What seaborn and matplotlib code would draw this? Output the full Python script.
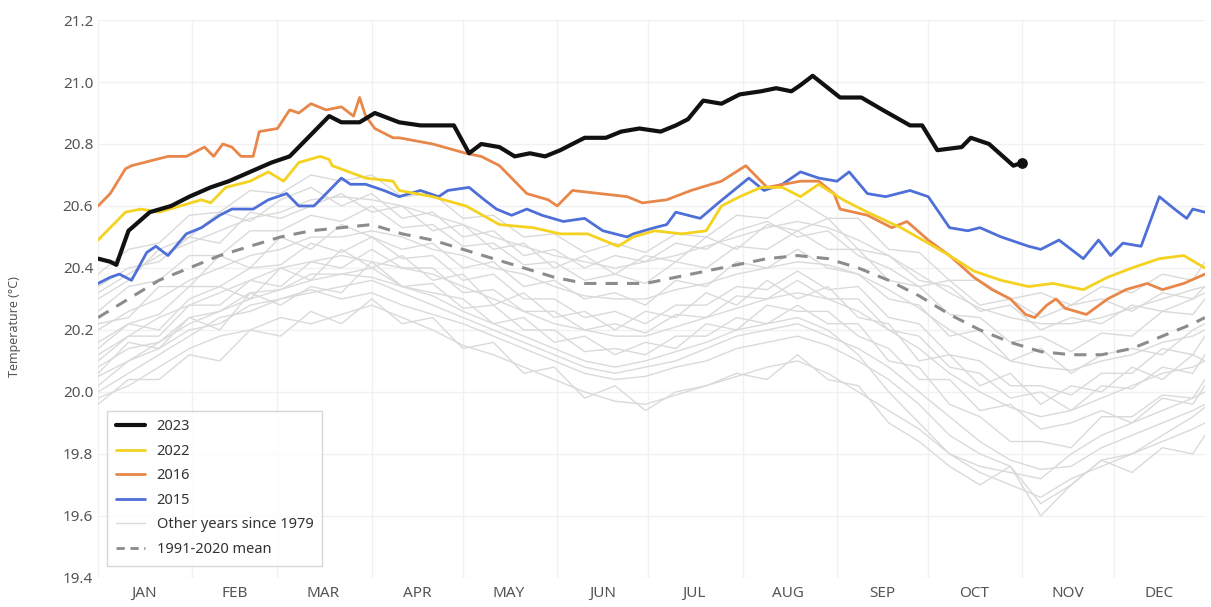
import numpy as np
import pandas as pd
import matplotlib.pyplot as plt
import seaborn as sns
from matplotlib.lines import Line2D

# ---- data (day of year) ----
months = ['JAN', 'FEB', 'MAR', 'APR', 'MAY', 'JUN', 'JUL', 'AUG', 'SEP', 'OCT', 'NOV', 'DEC']
month_start = [0, 31, 59, 90, 120, 151, 181, 212, 243, 273, 304, 334]
month_mid = [15, 45, 74, 105, 135, 166, 196, 227, 258, 288, 319, 349]

d2023 = [0, 4, 6, 10, 17, 24, 30, 37, 43, 50, 57, 63, 68, 76, 80, 86, 91, 99, 106, 112, 117, 122,
         126, 132, 137, 142, 147, 152, 160, 167, 172, 178, 185, 190, 194, 199, 205, 211, 218, 223,
         228, 231, 235, 244, 251, 258, 267, 271, 276, 284, 287, 293, 301, 304]
t2023 = [20.43, 20.42, 20.41, 20.52, 20.58, 20.60, 20.63, 20.66, 20.68, 20.71, 20.74, 20.76, 20.81,
         20.89, 20.87, 20.87, 20.90, 20.87, 20.86, 20.86, 20.86, 20.77, 20.80, 20.79, 20.76, 20.77,
         20.76, 20.78, 20.82, 20.82, 20.84, 20.85, 20.84, 20.86, 20.88, 20.94, 20.93, 20.96, 20.97,
         20.98, 20.97, 20.99, 21.02, 20.95, 20.95, 20.91, 20.86, 20.86, 20.78, 20.79, 20.82, 20.80,
         20.73, 20.74]

d2022 = [0, 4, 9, 14, 20, 27, 34, 37, 42, 50, 56, 61, 66, 73, 76, 77, 88, 97, 99, 110, 121, 132,
         143, 152, 161, 171, 176, 183, 192, 200, 205, 211, 218, 225, 231, 237, 245, 253, 264, 273,
         280, 288, 297, 306, 314, 324, 332, 340, 349, 357, 364]
t2022 = [20.49, 20.53, 20.58, 20.59, 20.58, 20.60, 20.62, 20.61, 20.66, 20.68, 20.71, 20.68, 20.74,
         20.76, 20.75, 20.73, 20.69, 20.68, 20.65, 20.63, 20.60, 20.54, 20.53, 20.51, 20.51, 20.47,
         20.50, 20.52, 20.51, 20.52, 20.60, 20.63, 20.66, 20.66, 20.63, 20.67, 20.62, 20.58, 20.53,
         20.48, 20.44, 20.39, 20.36, 20.34, 20.35, 20.33, 20.37, 20.40, 20.43, 20.44, 20.40]

d2016 = [0, 4, 9, 11, 15, 23, 29, 35, 38, 41, 44, 47, 51, 53, 59, 63, 66, 70, 75, 80, 84, 86, 88,
         91, 97, 99, 110, 121, 126, 132, 141, 148, 151, 156, 165, 174, 179, 187, 195, 205, 213,
         220, 231, 237, 242, 244, 253, 261, 266, 273, 280, 288, 294, 300, 305, 308, 312, 315, 318,
         325, 332, 338, 345, 350, 357, 364]
t2016 = [20.60, 20.64, 20.72, 20.73, 20.74, 20.76, 20.76, 20.79, 20.76, 20.80, 20.79, 20.76, 20.76,
         20.84, 20.85, 20.91, 20.90, 20.93, 20.91, 20.92, 20.89, 20.95, 20.89, 20.85, 20.82, 20.82,
         20.80, 20.77, 20.76, 20.73, 20.64, 20.62, 20.60, 20.65, 20.64, 20.63, 20.61, 20.62, 20.65,
         20.68, 20.73, 20.66, 20.68, 20.68, 20.64, 20.59, 20.57, 20.53, 20.55, 20.49, 20.44, 20.37,
         20.33, 20.30, 20.25, 20.24, 20.28, 20.30, 20.27, 20.25, 20.30, 20.33, 20.35, 20.33, 20.35,
         20.38]

d2015 = [0, 4, 7, 11, 16, 19, 23, 29, 34, 40, 44, 51, 56, 62, 66, 71, 74, 80, 83, 88, 94, 99, 106,
         112, 115, 122, 127, 131, 136, 141, 146, 153, 160, 166, 174, 176, 183, 187, 190, 198, 204,
         209, 214, 219, 225, 231, 237, 243, 247, 253, 259, 267, 273, 280, 286, 290, 297, 306, 310,
         316, 324, 329, 333, 337, 343, 349, 354, 358, 360, 364]
t2015 = [20.35, 20.37, 20.38, 20.36, 20.45, 20.47, 20.44, 20.51, 20.53, 20.57, 20.59, 20.59, 20.62,
         20.64, 20.60, 20.60, 20.63, 20.69, 20.67, 20.67, 20.65, 20.63, 20.65, 20.63, 20.65, 20.66,
         20.62, 20.59, 20.57, 20.59, 20.57, 20.55, 20.56, 20.52, 20.50, 20.51, 20.53, 20.54, 20.58,
         20.56, 20.61, 20.65, 20.69, 20.65, 20.67, 20.71, 20.69, 20.68, 20.71, 20.64, 20.63, 20.65,
         20.63, 20.53, 20.52, 20.53, 20.50, 20.47, 20.46, 20.49, 20.43, 20.49, 20.44, 20.48, 20.47,
         20.63, 20.59, 20.56, 20.59, 20.58]

d_mean = [0, 10, 20, 30, 40, 50, 60, 70, 80, 90, 100, 110, 120, 130, 140, 150, 160, 170, 180, 190,
          200, 210, 220, 230, 240, 250, 260, 270, 280, 290, 300, 310, 320, 330, 340, 350, 360, 364]
t_mean = [20.24, 20.30, 20.36, 20.40, 20.44, 20.47, 20.50, 20.52, 20.53, 20.54, 20.51, 20.49, 20.46,
          20.43, 20.40, 20.37, 20.35, 20.35, 20.35, 20.37, 20.39, 20.41, 20.43, 20.44, 20.43, 20.40,
          20.36, 20.31, 20.25, 20.20, 20.16, 20.13, 20.12, 20.12, 20.14, 20.18, 20.22, 20.24]

# other years since 1979, sampled every 10 days (same days as d_mean)
other_years = [
    [19.98, 20.02, 20.08, 20.14, 20.18, 20.20, 20.24, 20.22, 20.25, 20.28, 20.24, 20.20, 20.15, 20.12, 20.08, 20.04, 20.00, 19.97, 19.96,
     19.99, 20.02, 20.05, 20.08, 20.10, 20.06, 20.00, 19.94, 19.88, 19.80, 19.74, 19.70, 19.66, 19.72, 19.76, 19.80, 19.84, 19.88, 19.90],
    [20.02, 20.10, 20.14, 20.20, 20.22, 20.28, 20.30, 20.33, 20.30, 20.32, 20.28, 20.25, 20.22, 20.18, 20.14, 20.10, 20.06, 20.04, 20.05,
     20.08, 20.10, 20.14, 20.16, 20.18, 20.15, 20.10, 20.04, 19.96, 19.86, 19.80, 19.76, 19.60, 19.70, 19.78, 19.80, 19.86, 19.92, 19.95],
    [20.08, 20.14, 20.16, 20.24, 20.26, 20.32, 20.33, 20.38, 20.38, 20.40, 20.34, 20.35, 20.27, 20.28, 20.20, 20.20, 20.13, 20.14, 20.12,
     20.18, 20.18, 20.24, 20.22, 20.28, 20.22, 20.22, 20.10, 20.08, 19.96, 19.92, 19.84, 19.84, 19.82, 19.92, 19.92, 19.99, 19.98, 20.04],
    [20.12, 20.18, 20.24, 20.28, 20.32, 20.36, 20.40, 20.42, 20.44, 20.42, 20.40, 20.38, 20.34, 20.30, 20.26, 20.22, 20.20, 20.18, 20.18,
     20.21, 20.24, 20.27, 20.30, 20.32, 20.30, 20.26, 20.20, 20.14, 20.06, 20.00, 19.95, 19.92, 19.94, 19.98, 20.02, 20.06, 20.08, 20.10],
    [20.16, 20.22, 20.25, 20.34, 20.34, 20.40, 20.41, 20.48, 20.45, 20.50, 20.43, 20.44, 20.36, 20.38, 20.30, 20.30, 20.24, 20.26, 20.22,
     20.28, 20.28, 20.34, 20.33, 20.39, 20.33, 20.34, 20.24, 20.22, 20.12, 20.10, 20.02, 20.02, 19.99, 20.06, 20.06, 20.14, 20.12, 20.18],
    [20.20, 20.26, 20.30, 20.36, 20.40, 20.44, 20.46, 20.50, 20.50, 20.52, 20.50, 20.46, 20.44, 20.40, 20.38, 20.34, 20.31, 20.30, 20.30,
     20.33, 20.35, 20.38, 20.40, 20.42, 20.41, 20.38, 20.33, 20.27, 20.20, 20.15, 20.10, 20.08, 20.07, 20.10, 20.12, 20.16, 20.18, 20.20],
    [20.26, 20.34, 20.36, 20.44, 20.44, 20.52, 20.52, 20.57, 20.55, 20.60, 20.53, 20.54, 20.47, 20.48, 20.41, 20.42, 20.36, 20.38, 20.35,
     20.42, 20.40, 20.47, 20.46, 20.52, 20.46, 20.46, 20.36, 20.34, 20.25, 20.24, 20.16, 20.18, 20.13, 20.19, 20.18, 20.26, 20.25, 20.30],
    [20.32, 20.38, 20.44, 20.48, 20.52, 20.56, 20.58, 20.62, 20.63, 20.62, 20.60, 20.57, 20.54, 20.50, 20.47, 20.44, 20.42, 20.40, 20.42,
     20.44, 20.47, 20.50, 20.53, 20.55, 20.53, 20.49, 20.44, 20.38, 20.32, 20.27, 20.24, 20.22, 20.22, 20.24, 20.27, 20.30, 20.33, 20.34],
    [20.38, 20.46, 20.48, 20.57, 20.58, 20.65, 20.64, 20.70, 20.68, 20.70, 20.63, 20.64, 20.56, 20.57, 20.50, 20.51, 20.45, 20.48, 20.45,
     20.51, 20.50, 20.57, 20.56, 20.62, 20.56, 20.56, 20.46, 20.45, 20.36, 20.36, 20.30, 20.32, 20.28, 20.34, 20.32, 20.38, 20.36, 20.42],
    [20.00, 20.06, 20.12, 20.18, 20.24, 20.26, 20.30, 20.32, 20.34, 20.36, 20.32, 20.28, 20.24, 20.20, 20.16, 20.12, 20.08, 20.06, 20.08,
     20.10, 20.14, 20.18, 20.20, 20.22, 20.18, 20.14, 20.08, 20.00, 19.92, 19.84, 19.78, 19.75, 19.76, 19.82, 19.86, 19.90, 19.94, 19.96],
    [20.10, 20.18, 20.18, 20.28, 20.28, 20.36, 20.34, 20.42, 20.40, 20.46, 20.40, 20.40, 20.32, 20.33, 20.26, 20.26, 20.20, 20.22, 20.19,
     20.25, 20.24, 20.31, 20.30, 20.36, 20.30, 20.30, 20.20, 20.18, 20.08, 20.06, 19.98, 20.00, 19.94, 20.02, 20.01, 20.08, 20.06, 20.12],
    [20.05, 20.10, 20.16, 20.22, 20.26, 20.30, 20.33, 20.36, 20.38, 20.37, 20.34, 20.31, 20.26, 20.22, 20.18, 20.14, 20.10, 20.08, 20.10,
     20.13, 20.16, 20.20, 20.22, 20.24, 20.20, 20.12, 20.00, 19.90, 19.80, 19.76, 19.74, 19.72, 19.80, 19.86, 19.90, 19.94, 19.98, 20.00],
    [20.30, 20.36, 20.46, 20.50, 20.58, 20.55, 20.62, 20.66, 20.60, 20.64, 20.56, 20.58, 20.50, 20.52, 20.44, 20.46, 20.40, 20.44, 20.42,
     20.48, 20.46, 20.52, 20.55, 20.50, 20.52, 20.44, 20.40, 20.34, 20.36, 20.28, 20.30, 20.24, 20.28, 20.30, 20.26, 20.32, 20.30, 20.34],
    [20.14, 20.22, 20.20, 20.30, 20.34, 20.30, 20.40, 20.36, 20.46, 20.40, 20.44, 20.36, 20.38, 20.28, 20.32, 20.24, 20.26, 20.20, 20.26,
     20.24, 20.32, 20.28, 20.36, 20.30, 20.34, 20.24, 20.22, 20.10, 20.12, 20.02, 20.06, 19.96, 20.02, 20.00, 20.08, 20.04, 20.12, 20.10],
    [19.96, 20.04, 20.04, 20.12, 20.10, 20.20, 20.18, 20.26, 20.22, 20.30, 20.22, 20.24, 20.14, 20.16, 20.06, 20.08, 19.98, 20.02, 19.94,
     20.00, 20.02, 20.06, 20.04, 20.12, 20.04, 20.02, 19.90, 19.84, 19.76, 19.70, 19.76, 19.64, 19.70, 19.78, 19.74, 19.82, 19.80, 19.86],
    [20.22, 20.24, 20.34, 20.34, 20.44, 20.40, 20.50, 20.46, 20.54, 20.50, 20.46, 20.48, 20.40, 20.42, 20.34, 20.36, 20.30, 20.32, 20.28,
     20.36, 20.34, 20.42, 20.40, 20.46, 20.40, 20.38, 20.30, 20.28, 20.18, 20.20, 20.10, 20.14, 20.06, 20.12, 20.14, 20.12, 20.20, 20.22],
    [20.06, 20.16, 20.14, 20.24, 20.20, 20.32, 20.28, 20.34, 20.32, 20.42, 20.34, 20.32, 20.30, 20.22, 20.24, 20.16, 20.18, 20.12, 20.16,
     20.14, 20.22, 20.20, 20.28, 20.26, 20.26, 20.18, 20.14, 20.04, 20.04, 19.94, 19.96, 19.88, 19.90, 19.94, 19.90, 19.98, 19.96, 20.02],
    [20.34, 20.40, 20.42, 20.50, 20.48, 20.58, 20.56, 20.60, 20.64, 20.58, 20.60, 20.52, 20.54, 20.46, 20.48, 20.40, 20.44, 20.38, 20.44,
     20.42, 20.50, 20.46, 20.54, 20.52, 20.56, 20.46, 20.44, 20.36, 20.34, 20.26, 20.28, 20.20, 20.24, 20.22, 20.28, 20.26, 20.30, 20.32],
]

c2023, c2022, c2016, c2015 = '#111111', '#f4d21f', '#e8874a', '#4f6fd8'
c_other, c_mean = '#dadada', '#8c8c8c'

# ---- plot ----
sns.set_style('white')
plt.rcParams['font.family'] = ['Noto Sans', 'DejaVu Sans']

fig = plt.figure(figsize=(12.11, 6.07), dpi=100)
ax = fig.add_axes([0.081, 0.048, 0.914, 0.919])

others = pd.DataFrame([
    {'year': i, 'day': d, 'temp': t}
    for i, row in enumerate(other_years) for d, t in zip(d_mean, row)
])
sns.lineplot(data=others, x='day', y='temp', units='year', estimator=None,
             color=c_other, linewidth=1, ax=ax, legend=False)

sns.lineplot(x=d_mean, y=t_mean, color=c_mean, linewidth=2.2, linestyle=(0, (4, 3)), ax=ax)
sns.lineplot(x=d2015, y=t2015, color=c2015, linewidth=2, ax=ax)
sns.lineplot(x=d2016, y=t2016, color=c2016, linewidth=2, ax=ax)
sns.lineplot(x=d2022, y=t2022, color=c2022, linewidth=2, ax=ax)
sns.lineplot(x=d2023, y=t2023, color=c2023, linewidth=3, ax=ax)
ax.scatter([d2023[-1]], [t2023[-1]], color=c2023, s=45, zorder=5)

ax.set_xlim(0, 364)
ax.set_ylim(19.4, 21.2)
yt = np.arange(19.4, 21.21, 0.2)
ax.set_yticks(yt)
ax.set_yticklabels([f'{v:.1f}' for v in yt])
ax.set_xticks(month_start)
ax.set_xticklabels([])
ax.set_xticks(month_mid, minor=True)
ax.set_xticklabels(months, minor=True)
ax.tick_params(axis='both', which='both', length=0, colors='#555555', labelsize=11)
ax.tick_params(axis='x', which='minor', pad=6)
ax.grid(True, which='major', color='#f1f1f1', linewidth=1)
ax.set_axisbelow(True)
for s in ax.spines.values():
    s.set_visible(False)
ax.set_xlabel('')
ax.set_ylabel('Temperature (°C)', color='#555555', fontsize=9)
ax.yaxis.set_label_coords(-0.07, 0.45)

handles = [
    Line2D([], [], color=c2023, linewidth=3),
    Line2D([], [], color=c2022, linewidth=2),
    Line2D([], [], color=c2016, linewidth=2),
    Line2D([], [], color=c2015, linewidth=2),
    Line2D([], [], color=c_other, linewidth=1),
    Line2D([], [], color=c_mean, linewidth=2, linestyle=(0, (3, 2))),
]
labels = ['2023', '2022', '2016', '2015', 'Other years since 1979', '1991-2020 mean']
leg = ax.legend(handles, labels, loc='lower left', bbox_to_anchor=(0.008, 0.022),
                frameon=True, fancybox=False, fontsize=10.5, labelcolor='#333333',
                borderaxespad=0, handlelength=2.0, handletextpad=0.8, labelspacing=0.65,
                borderpad=0.6)
leg.get_frame().set_edgecolor('#cccccc')
leg.get_frame().set_linewidth(1)

fig.savefig('out.png', dpi=100)
